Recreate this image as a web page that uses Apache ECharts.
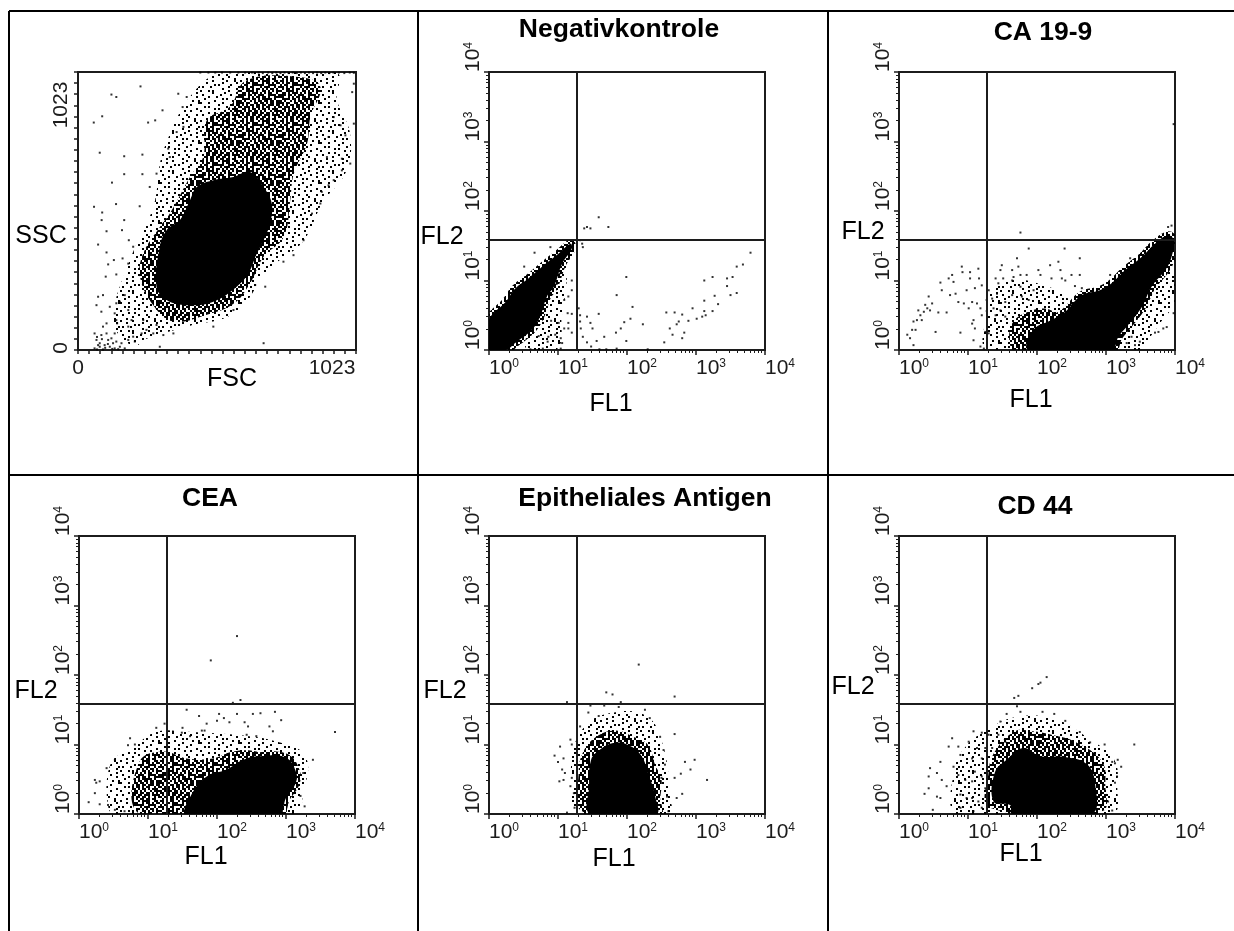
<!DOCTYPE html>
<html>
<head>
<meta charset="utf-8">
<style>html,body{margin:0;background:#fff}#main{width:1234px;height:931px}</style>
<script src="https://cdn.jsdelivr.net/npm/echarts@6/dist/echarts.min.js"></script>
</head>
<body>
<div id="main"></div>
<script>
// FL panels store log10 of the channel (0..4 = 10^0..10^4), FSC/SSC is linear 0..1023
const decades = [0, 1, 2, 3, 4]
const logMinor = [0.30, 0.48, 0.60, 0.70, 0.78, 0.85, 0.90, 0.95]
const gateFL1 = 1.27
const gateFL2 = 1.58

// scatter panel, outlines of the dense cloud
const fscSolid = [[289,233],[301,380],[326,441],[375,478],[412,551],[437,600],[498,625],[572,637],[633,655],[683,600],[713,539],[707,466],[683,404],[658,355],[627,282],[584,233],[498,178],[400,165],[326,184]]
const fscDark = [[228,270],[240,355],[301,453],[338,502],[412,637],[461,711],[474,845],[558,894],[620,992],[819,1004],[892,968],[855,857],[843,760],[794,649],[781,551],[757,416],[683,343],[633,245],[572,170],[474,130],[351,105],[277,165]]
const fscLight = [[141,110],[203,331],[289,527],[326,735],[461,972],[597,1015],[941,1015],[941,919],[990,796],[977,662],[892,551],[818,404],[695,306],[572,147],[400,98],[240,49],[203,25]]
const fscDots = [[123,940],[141,931],[230,970],[58,837],[89,860],[80,726],[170,713],[237,719],[170,647],[237,647],[125,616],[59,527],[140,537],[89,506],[87,478],[170,478],[227,529],[105,437],[162,441],[74,388],[187,404],[105,359],[132,331],[111,315],[102,270],[141,278],[164,337],[185,318],[203,380],[258,837],[284,845],[311,882],[369,943],[385,894],[400,931],[289,649],[264,600],[332,741],[338,710],[363,802],[388,821],[683,25],[301,12],[1015,980],[1009,949],[1015,833],[1002,686],[971,661],[971,704],[984,790],[966,827],[941,857],[922,784],[916,710],[941,625],[922,606],[897,582],[892,539],[861,502],[830,404],[793,349],[756,325],[689,233],[652,239],[498,86],[572,147],[61,6],[80,12],[98,18],[117,12],[135,6],[154,12],[172,6],[68,37],[86,55],[105,61],[123,43],[141,31],[135,61],[61,61],[80,25],[111,37],[92,2],[129,25],[160,25],[185,37],[144,98],[203,49],[209,31],[185,86],[197,110],[234,61],[252,74],[277,61],[314,55],[351,61],[289,92],[240,110],[74,196],[92,202],[68,165],[86,141],[117,159],[141,172],[135,135],[154,178],[105,98],[92,86],[141,110],[172,202],[185,147],[70,2],[100,8],[126,4],[148,3],[74,18],[110,22],[88,40],[70,48],[450,1021],[480,1021],[505,1021],[530,1021],[560,1021],[590,1021],[615,1021],[640,1021],[650,1019],[665,1021],[680,1019],[700,1021],[715,1019],[730,1021],[745,1019],[760,1021],[775,1019],[790,1021],[805,1019],[820,1021],[835,1019],[850,1021],[865,1019],[880,1021],[895,1019],[910,1021],[925,1019],[940,1021],[960,1021],[980,1019],[1000,1021],[1015,1020]]

// Negativkontrole
const negSolid = [[0,0],[0,0.43],[0.24,0.69],[0.38,0.885],[0.57,1.03],[0.82,1.24],[1.01,1.39],[1.18,1.53],[1.2,1.46],[1.06,1.24],[0.94,0.91],[0.84,0.77],[0.74,0.48],[0.62,0.29],[0.38,0.1],[0.24,0]]
const negLight = [[0.57,0.05],[0.74,0.48],[0.84,0.81],[1.06,1.2],[1.08,0.96],[1.01,0.48],[0.96,0.05]]
const negDots = [[1.38,1.75],[1.42,1.77],[1.47,1.75],[1.59,1.91],[1.73,1.77],[1.32,1.58],[1.35,1.53],[1.36,1.48],[0.66,1.4],[0.89,1.48],[0.51,1.2],[1.2,1],[1.99,1.05],[1.85,0.79],[2.08,0.62],[2.23,0.37],[2.05,0.45],[1.96,0.4],[1.91,0.31],[1.84,0.25],[1.99,0.13],[1.67,0.19],[1.56,0.13],[1.48,0.05],[1.42,0.11],[1.36,0.19],[1.33,0.31],[1.32,0.41],[1.3,0.6],[1.32,0.5],[1.42,0.48],[1.47,0.39],[1.5,0.31],[1.59,0.52],[1.15,0.77],[1.09,0.72],[1.14,0.53],[1.2,0.52],[1.01,0.39],[1.15,0.39],[1.09,0.31],[1.15,0.31],[1.2,0.25],[0.96,0.22],[1.04,0.17],[1.06,0.1],[0.86,0.19],[1.2,0.86],[3.79,1.4],[3.68,1.23],[3.59,1.2],[3.53,1.05],[3.45,1.03],[3.45,0.92],[3.24,1.05],[3.12,1],[3.59,0.82],[3.5,0.79],[3.27,0.78],[3.12,0.71],[3.32,0.66],[3.12,0.56],[3.24,0.56],[2.95,0.6],[3.14,0.5],[3.09,0.48],[3.01,0.45],[2.89,0.42],[2.8,0.51],[2.69,0.54],[2.57,0.54],[2.75,0.41],[2.72,0.37],[2.62,0.31],[2.83,0.25],[2.66,0.22],[2.8,0.17],[2.54,0.11],[1.85,0.02],[1.7,0.01],[1.6,0.01],[2.3,0.01],[0.6,0.01],[0.78,0.02],[1.04,0.02],[0.85,0.12],[0.72,0.2],[0.9,0.42],[1.02,1.1],[0.98,0.95]]

// CA 19-9
const caSolid = [[1.88,0],[1.95,0.29],[2.21,0.43],[2.41,0.55],[2.65,0.79],[2.91,0.86],[3.08,0.96],[3.28,1.15],[3.52,1.34],[3.71,1.53],[3.9,1.65],[3.98,1.58],[3.95,1.34],[3.86,1.15],[3.66,0.91],[3.52,0.62],[3.32,0.36],[3.18,0.19],[3.08,0]]
const caDark = [[1.64,0],[1.64,0.38],[1.93,0.57],[2.21,0.57],[2.26,0.43],[1.93,0.24],[1.88,0]]
const caLight = [[1.3,0],[1.3,0.48],[1.35,0.81],[1.64,0.96],[2.02,0.91],[2.41,0.72],[2.46,0.43],[1.93,0.24],[1.83,0]]
const caLight2 = [[3.08,0],[3.18,0.19],[3.32,0.36],[3.52,0.62],[3.66,0.91],[3.86,1.15],[3.98,0.96],[3.98,0.72],[3.76,0.43],[3.52,0.1],[3.4,0]]
const caDots = [[0.12,0.22],[0.16,0.17],[0.21,0.07],[0.19,0.29],[0.24,0.29],[0.21,0.41],[0.26,0.43],[0.31,0.5],[0.36,0.55],[0.38,0.65],[0.43,0.77],[0.48,0.67],[0.45,0.57],[0.33,0.43],[0.41,0.6],[0.28,0.57],[0.53,0.26],[0.89,0.25],[0.57,0.54],[0.69,0.54],[0.6,0.97],[0.72,1.03],[0.77,1.08],[0.79,0.98],[0.62,0.86],[0.74,0.79],[0.82,0.81],[0.86,0.69],[0.94,0.67],[0.91,1.2],[0.92,1.12],[1.03,1.12],[1.15,1.17],[1.03,1.03],[1.16,1.03],[0.98,0.86],[1.1,0.89],[1.2,0.93],[1.06,0.69],[1.13,0.67],[1.18,0.6],[1.01,0.6],[1.08,0.43],[1.06,0.38],[1.2,0.5],[1.1,0.31],[1.08,0.14],[1.18,0.05],[1.25,0.26],[1.3,0.24],[1.23,0.02],[1.3,0.86],[1.27,0.72],[1.35,0.74],[1.42,0.81],[1.49,1.22],[1.47,1.15],[1.4,1.03],[1.44,0.96],[1.51,1.03],[1.64,1],[1.71,1.32],[1.73,1.2],[1.64,1.15],[1.66,1.05],[1.76,1.08],[1.88,1.46],[1.85,1.08],[1.76,0.91],[1.64,0.79],[1.54,0.69],[1.47,0.57],[1.37,0.6],[1.4,0.5],[1.54,0.48],[1.78,0.77],[1.88,0.72],[1.95,0.86],[2.02,1.15],[2.05,1.08],[2.19,1.22],[2.31,1.27],[2.34,1.15],[2.4,1.46],[2.36,1.03],[2.21,1.03],[2.41,1],[2.62,1.32],[2.5,1.08],[2.62,1.08],[2.55,0.92],[2.65,0.89],[1.76,1.69],[3.98,3.25],[3.9,1.77],[3.95,1.79],[3.06,1.08],[3.35,1.32],[3.4,1.13],[3.76,0.26],[3.83,0.31],[3.88,0.33],[3.98,0.53],[3.71,0.25],[3.49,0.12],[3.42,0.07],[3.37,0.19],[3.3,0.1]]

// CEA
const ceaSolid = [[1.56,0],[1.63,0.28],[1.85,0.54],[2.14,0.64],[2.38,0.78],[2.62,0.83],[3,0.81],[3.15,0.59],[3.13,0.42],[3,0.23],[2.96,0.09],[2.93,0]]
const ceaDark = [[0.83,0.04],[0.88,0.76],[1.22,0.9],[1.56,0.8],[1.94,0.8],[2.23,0.9],[2.57,0.9],[2.62,0.81],[1.85,0.54],[1.63,0.28],[1.56,0]]
const ceaLight = [[0.47,0.09],[0.5,0.71],[0.79,0.9],[1.12,1.14],[1.56,1.14],[2.33,1.09],[2.86,1],[3.25,0.8],[3.2,0.28],[3.1,0],[0.64,0]]
const ceaDots = [[2.29,2.56],[1.91,2.21],[2.23,1.6],[2.34,1.64],[1.56,1.5],[1.74,1.41],[2.03,1.44],[2.29,1.44],[2.52,1.44],[2.63,1.45],[2.84,1.47],[2.93,1.35],[3.71,1.18],[3.39,0.78],[1.85,1.3],[2,1.34],[2.1,1.38],[2.18,1.32],[2.4,1.32],[2.45,1.26],[2.76,1.26],[2.81,1.19],[1.12,1.24],[1.24,1.3],[1.78,1.2],[1.82,1.2],[1.5,1.24],[1.49,1.17],[1.61,1.12],[0.74,1.09],[0.71,0.99],[0.81,1],[0.52,0.78],[0.4,0.66],[0.23,0.49],[0.3,0.47],[0.25,0.45],[0.23,0.3],[0.14,0.17],[0.3,0.14],[0.42,0.13],[3.27,0.11],[3.21,0.26],[3.25,0.59],[0.52,0.06],[0.66,0.04],[2.43,1.14],[2.57,1.12]]

// Epitheliales Antigen
const epSolid = [[1.47,0],[1.45,0.4],[1.48,0.78],[1.6,0.92],[1.8,1.02],[2,1],[2.2,0.85],[2.32,0.55],[2.41,0.25],[2.42,0]]
const epDark = [[1.35,0.04],[1.3,0.6],[1.36,0.88],[1.54,1.1],[1.83,1.2],[2.07,1.12],[2.3,1],[2.41,0.7],[2.5,0.5],[2.48,0.18],[2.5,0]]
const epLight = [[1.25,0.18],[1.25,0.85],[1.38,1.18],[1.64,1.38],[2.25,1.38],[2.5,0.9],[2.58,0.23],[2.58,0],[1.35,0]]
const epDots = [[2.17,2.15],[1.7,1.75],[1.79,1.72],[1.91,1.61],[2.69,1.69],[1.13,1.61],[2.69,1.15],[2.84,0.75],[2.98,0.78],[2.92,0.64],[3.16,0.49],[2.78,0.58],[2.69,0.52],[2.8,0.29],[2.72,0.23],[2.58,0.25],[2.6,0.04],[0.95,0.84],[1.03,0.97],[1.08,0.8],[1.18,1.07],[1.2,1],[1,0.75],[1.06,0.64],[1.1,0.59],[1.02,0.47],[1.08,0.49],[1.18,0.4],[1.2,0.52],[1.23,0.3],[1.13,0.02],[1.24,0.09],[1.44,1.46],[1.59,1.41],[1.88,1.54],[2.26,1.5],[2.33,1.38],[1.47,1.56],[1.67,1.56],[1.32,1.26],[2.48,1.11],[2.53,0.92],[2.55,0.71],[2.5,0.52]]

// CD 44
const cdSolid = [[1.37,0.18],[1.39,0.6],[1.56,0.78],[1.8,0.95],[2.05,0.83],[2.4,0.82],[2.72,0.72],[2.84,0.45],[2.79,0],[1.64,0],[1.61,0.13]]
const cdDark = [[1.32,0.09],[1.3,0.61],[1.39,0.9],[1.68,1.19],[1.93,1.19],[2.21,1.14],[2.55,1.04],[2.94,0.76],[2.99,0.42],[2.94,0.04]]
const cdLight = [[0.9,0],[0.85,0.65],[1.05,1],[1.25,1.14],[1.64,1.34],[2.21,1.34],[2.74,1.04],[3.08,0.76],[3.12,0.42],[3.04,0]]
const cdDots = [[2.14,1.97],[2.05,1.89],[2.02,1.87],[1.93,1.81],[1.73,1.7],[1.67,1.67],[1.71,1.55],[1.56,1.44],[1.47,1.33],[1.76,1.47],[2.08,1.47],[2.25,1.44],[2.41,1.34],[2.62,1.18],[2.77,1.03],[2.98,1],[3.41,1],[3.17,0.78],[3.22,0.68],[3.13,0.73],[3.09,0.75],[3.16,0.54],[3.13,0.45],[3.09,0.05],[3.03,0.18],[0.77,1.09],[0.72,0.97],[0.6,0.75],[0.45,0.66],[0.43,0.54],[0.55,0.59],[0.62,0.49],[0.69,0.4],[0.43,0.37],[0.37,0.29],[0.55,0.25],[0.49,0.06],[0.6,0.23],[0.86,0.97],[0.89,0.85],[0.79,0.68],[0.86,0.56],[0.96,0.49],[0.89,0.28],[0.98,0.23],[0.89,0.09],[1.06,0.23],[1.06,0.47],[1.01,1.04],[1.08,1.19],[1.2,1.17],[1.13,0.95],[1.2,0.8],[1.06,0.8],[1.1,0.61],[1.2,0.54],[1.25,0.37],[1.15,0.18],[1.08,0.04],[1.2,0.09],[1.25,0.95],[1.35,0.95],[1.3,1.14],[1.44,1.14],[1.54,1.04]]

const denseTile = [
  '##.#.##..#.##.#..##.',
  '.#..#.###..#.##.#.##',
  '#.##..#.#.##..#.##..',
  '##.#.##...#.###..#.#',
  '.#.##.#.##.#.#.##.#.',
  '#..#.##.#..##.#.#.##',
  '.##.#..##.#.#.##..#.',
  '#.#.##.#.###..#.##.#',
  '##..#.#..#.##.#..###',
  '.#.##.##.#..#.##.#..',
  '#.#..#.#.##.##.#..##',
  '##.##..##.#..#.##.#.',
  '.#.#.##.#..##.#.#.##',
  '#..##.#.##.#.##..#.#',
  '.##.#.#..#.##.#.##..',
  '#.#.##.##.#.#..#.###',
  '##.#..#.#.##.##.#.#.',
  '.#.##.##..#.#.#.##.#',
  '#.##.#..##.##.#..#.#',
  '.#.#.##.#.#..##.##..'
]
const sparseTile = [
  '#.....#......#...#..',
  '...#.......#......#.',
  '.......#.#.....#....',
  '.#...#........#....#',
  '...........#......#.',
  '#...#.#.......#.....',
  '......#.....#.....#.',
  '.#........#....#....',
  '....#...#.........#.',
  '..#........#.#......',
  '.......#........#..#',
  '#...#......#.......#',
  '.........#.....#....',
  '..#.#........#......',
  '.......#.#........#.',
  '#...........#..#....',
  '....#..#............',
  '.#.......#...#....#.',
  '......#.......#.....',
  '...#.......#.....#..'
]

// every tile cell is one 2px dot, about the size of a dot in the cloud
function tile(rows) {
  const c = document.createElement('canvas')
  c.width = rows[0].length * 2
  c.height = rows.length * 2
  const ctx = c.getContext('2d')
  ctx.fillStyle = '#000'
  rows.forEach((row, y) => {
    for (let x = 0; x < row.length; x++) {
      if (row[x] === '#') ctx.fillRect(x * 2, y * 2, 2, 2)
    }
  })
  return { image: c, repeat: 'repeat' }
}
const denseFill = tile(denseTile)
const sparseFill = tile(sparseTile)

const FONT = '"Liberation Sans", Arial, sans-serif'
const INK = '#1c1c1c'

const boxes = [
  { left: 78, top: 72, width: 278, height: 278 },
  { left: 489, top: 72, width: 276, height: 278 },
  { left: 899, top: 72, width: 276, height: 278 },
  { left: 79, top: 536, width: 276, height: 278 },
  { left: 489, top: 536, width: 276, height: 278 },
  { left: 899, top: 536, width: 276, height: 278 }
]
const panelData = [
  { solid: [fscSolid], dark: [fscDark], light: [fscLight], dots: fscDots },
  { solid: [negSolid], dark: [], light: [negLight], dots: negDots },
  { solid: [caSolid], dark: [caDark], light: [caLight, caLight2], dots: caDots },
  { solid: [ceaSolid], dark: [ceaDark], light: [ceaLight], dots: ceaDots },
  { solid: [epSolid], dark: [epDark], light: [epLight], dots: epDots },
  { solid: [cdSolid], dark: [cdDark], light: [cdLight], dots: cdDots }
]

const minorValues = []
for (let d = 0; d < 4; d++) logMinor.forEach((m) => minorValues.push(d + m))
const linearTicks = []
for (let i = 0; i <= 25; i++) linearTicks.push((1023 * i) / 25)

const decadeLabel = {
  show: true,
  color: INK,
  fontFamily: FONT,
  formatter: (v) => `{b|10}{s|${v}}`,
  rich: {
    b: { fontSize: 21, fontFamily: FONT, color: INK },
    s: { fontSize: 12, fontFamily: FONT, color: INK, verticalAlign: 'top', padding: [0, 0, 8, 0] }
  }
}

function baseAxis(i, dim) {
  return {
    type: 'value',
    gridIndex: i,
    position: dim === 'x' ? 'bottom' : 'left',
    splitLine: { show: false },
    axisLine: { show: true, onZero: false, lineStyle: { color: INK, width: 2 } }
  }
}

const xAxis = []
const yAxis = []
boxes.forEach((b, i) => {
  if (i === 0) {
    xAxis.push({ ...baseAxis(i, 'x'), min: 0, max: 1023, axisLabel: { show: false }, axisTick: { customValues: linearTicks, length: 4, lineStyle: { color: INK, width: 1.5 } } })
    yAxis.push({ ...baseAxis(i, 'y'), min: 0, max: 1023, axisLabel: { show: false }, axisTick: { customValues: linearTicks, length: 4, lineStyle: { color: INK, width: 1.5 } } })
    return
  }
  xAxis.push({
    ...baseAxis(i, 'x'), min: 0, max: 4, interval: 1,
    axisTick: { length: 5, lineStyle: { color: INK, width: 1.5 } },
    axisLabel: { ...decadeLabel, align: 'left', margin: 8, showMinLabel: true, showMaxLabel: true, hideOverlap: false }
  })
  yAxis.push({
    ...baseAxis(i, 'y'), min: 0, max: 4, interval: 1,
    axisTick: { length: 5, lineStyle: { color: INK, width: 1.5 } },
    axisLabel: { ...decadeLabel, rotate: 90, align: 'left', verticalAlign: 'middle', margin: 16, showMinLabel: true, showMaxLabel: true, hideOverlap: false }
  })
})
// second axis pair only carries the small log ticks
boxes.forEach((b, i) => {
  if (i === 0) return
  xAxis.push({ type: 'value', gridIndex: i, position: 'bottom', min: 0, max: 4, splitLine: { show: false }, axisLine: { show: false }, axisLabel: { show: false }, axisTick: { customValues: minorValues, length: 3, lineStyle: { color: INK, width: 1 } } })
  yAxis.push({ type: 'value', gridIndex: i, position: 'left', min: 0, max: 4, splitLine: { show: false }, axisLine: { show: false }, axisLabel: { show: false }, axisTick: { customValues: minorValues, length: 3, lineStyle: { color: INK, width: 1 } } })
})

// the stroke is what makes the edge of a cloud look frayed instead of cut
function blob(i, poly, fill, edge, edgeWidth) {
  return {
    type: 'custom',
    xAxisIndex: i,
    yAxisIndex: i,
    coordinateSystem: 'cartesian2d',
    silent: true,
    animation: false,
    clip: true,
    data: [poly[0]],
    renderItem: (params, api) => ({
      type: 'polygon',
      shape: { points: poly.map((p) => api.coord(p)), smooth: 0.4 },
      style: { fill: fill, stroke: edge, lineWidth: edgeWidth, lineJoin: 'round' }
    })
  }
}

const series = []
panelData.forEach((p, i) => {
  p.light.forEach((poly) => series.push(blob(i, poly, sparseFill, sparseFill, 6)))
  p.dark.forEach((poly) => series.push(blob(i, poly, denseFill, sparseFill, 10)))
  p.solid.forEach((poly) => series.push(blob(i, poly, '#000', denseFill, 8)))
  const dots = {
    type: 'scatter',
    xAxisIndex: i,
    yAxisIndex: i,
    symbol: 'rect',
    symbolSize: 2,
    silent: true,
    animation: false,
    itemStyle: { color: '#000' },
    data: p.dots
  }
  if (i > 0) {
    dots.markLine = {
      silent: true,
      animation: false,
      symbol: 'none',
      label: { show: false },
      lineStyle: { color: INK, width: 2, type: 'solid' },
      data: [{ xAxis: gateFL1 }, { yAxis: gateFL2 }]
    }
  }
  series.push(dots)
})

// table lines
const tableLines = [
  [9, 11, 1234, 11], [9, 475, 1234, 475],
  [9, 11, 9, 931], [418, 11, 418, 931], [828, 11, 828, 931]
]
const labels = [
  { t: 'Negativkontrole', x: 619, y: 30, bold: true },
  { t: 'CA 19-9', x: 1043, y: 33, bold: true },
  { t: 'CEA', x: 210, y: 499, bold: true },
  { t: 'Epitheliales Antigen', x: 645, y: 499, bold: true },
  { t: 'CD 44', x: 1035, y: 507, bold: true },
  { t: 'SSC', x: 41, y: 236 },
  { t: 'FSC', x: 232, y: 379 },
  { t: 'FL2', x: 442, y: 237 },
  { t: 'FL1', x: 611, y: 404 },
  { t: 'FL2', x: 863, y: 232 },
  { t: 'FL1', x: 1031, y: 400 },
  { t: 'FL2', x: 36, y: 691 },
  { t: 'FL1', x: 206, y: 857 },
  { t: 'FL2', x: 445, y: 691 },
  { t: 'FL1', x: 614, y: 859 },
  { t: 'FL2', x: 853, y: 687 },
  { t: 'FL1', x: 1021, y: 854 }
]
const graphic = tableLines.map((l) => ({
  type: 'line',
  shape: { x1: l[0], y1: l[1], x2: l[2], y2: l[3] },
  style: { stroke: '#000', lineWidth: 2 },
  silent: true
}))
labels.forEach((l) => {
  graphic.push({
    type: 'text', x: l.x, y: l.y, silent: true,
    style: { text: l.t, fill: '#000', align: 'center', verticalAlign: 'middle', font: `${l.bold ? 'bold 26.5' : '25'}px ${FONT}` }
  })
})
// FSC/SSC scale labels
;[['0', 78, 368, 0], ['1023', 332, 368, 0], ['0', 61, 348, Math.PI / 2], ['1023', 61, 105, Math.PI / 2]].forEach((l) => {
  graphic.push({
    type: 'text', x: l[1], y: l[2], rotation: l[3], silent: true,
    style: { text: l[0], fill: INK, align: 'center', verticalAlign: 'middle', font: `21px ${FONT}` }
  })
})

const chart = echarts.init(document.getElementById('main'), null, { renderer: 'canvas' })
chart.setOption({
  backgroundColor: '#fff',
  animation: false,
  tooltip: { show: false },
  grid: boxes.map((b) => ({ ...b, show: true, borderColor: INK, borderWidth: 2, backgroundColor: 'transparent', containLabel: false })),
  xAxis: xAxis,
  yAxis: yAxis,
  series: series,
  graphic: graphic
})
</script>
</body>
</html>
